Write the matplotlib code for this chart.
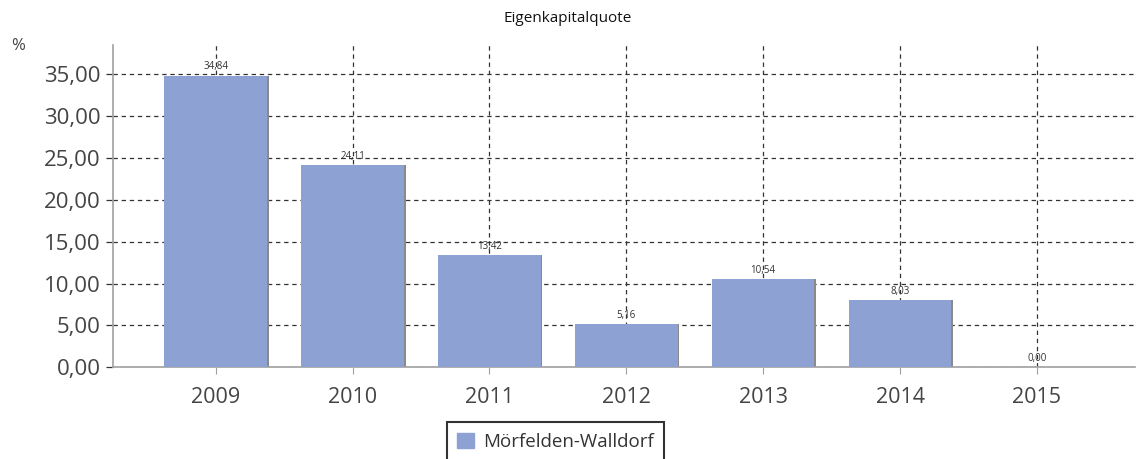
import matplotlib

matplotlib.use("Agg")
import matplotlib.pyplot as plt
import numpy as np

years = ["2009", "2010", "2011", "2012", "2013", "2014", "2015"]
quote = [34.84, 24.11, 13.42, 5.16, 10.54, 8.03, 0.00]
series_name = "Mörfelden-Walldorf"

plt.rcParams["font.family"] = ["Open Sans", "DejaVu Sans"]

bar_color = "#8DA2D2"
x = np.arange(len(years))
width = 0.75

fig = plt.figure(figsize=(11.36, 4.59), dpi=100)
ax = fig.add_axes([0.0995, 0.2, 0.9, 0.702])

# thin shadow on the right side of each bar
ax.bar(x + 0.012, quote, width, color="#8a8a8a", zorder=2)
ax.bar(x, quote, width, color=bar_color, zorder=3)

for xi, v in zip(x, quote):
    ax.text(xi, v + 0.4, f"{v:.2f}".replace(".", ","), ha="center", va="bottom",
            fontsize=7, color="#333333", zorder=4)

ax.set_xlim(-0.75, 6.72)
ax.set_ylim(0, 38.5)
ax.set_xticks(x)
ax.set_xticklabels(years)
ax.set_yticks(np.arange(0, 36, 5))
ax.set_yticklabels([f"{v:.2f}".replace(".", ",") for v in np.arange(0, 36, 5)])

ax.grid(True, color="#333333", linestyle=(0, (3.5, 3)), linewidth=0.9, zorder=1)
ax.set_axisbelow(True)

for s in ["top", "right"]:
    ax.spines[s].set_visible(False)
for s in ["left", "bottom"]:
    ax.spines[s].set_color("#a0a0a0")
    ax.spines[s].set_linewidth(1.2)

ax.tick_params(axis="x", colors="#a0a0a0", length=5, labelsize=15.5, labelcolor="#444444", pad=9)
ax.tick_params(axis="y", colors="#333333", length=5, width=0.9, labelsize=16, labelcolor="#444444", pad=4)

fig.text(0.5, 0.96, "Eigenkapitalquote", ha="center", va="center", fontsize=11, color="#111111")
fig.text(0.016, 0.9, "%", ha="center", va="center", fontsize=12, color="#444444")

handle = plt.Rectangle((0, 0), 1, 1, color=bar_color)
leg = fig.legend([handle], [series_name], loc="upper center", bbox_to_anchor=(0.489, 0.1),
                 fontsize=13.5, frameon=True, fancybox=False, handlelength=0.9, handleheight=0.9,
                 borderpad=0.55, handletextpad=0.5)
leg.get_frame().set_edgecolor("black")
leg.get_frame().set_linewidth(1.5)
for t in leg.get_texts():
    t.set_color("#333333")

fig.savefig("out.png", dpi=100)
